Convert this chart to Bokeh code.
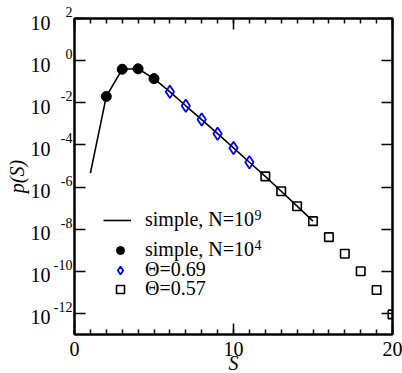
from bokeh.plotting import figure
from bokeh.models import (Range1d, LinearAxis, LogAxis, LogScale, FixedTicker, Label,
                          Legend, LegendItem, CustomJSTickFormatter)
from bokeh.embed import file_html
from bokeh.resources import INLINE

# ---------------- data ----------------
line_S = [1, 2, 3, 4, 5, 6, 7, 8, 9, 10, 11, 12, 13, 14, 15]
line_p = [4.6e-6, 2.0e-2, 0.39, 0.41, 0.14, 3.3e-2, 7.2e-3, 1.6e-3, 3.4e-4,
          7.2e-5, 1.5e-5, 3.2e-6, 6.3e-7, 1.23e-7, 2.4e-8]

dots_S = [2, 3, 4, 5]
dots_p = [2.0e-2, 0.39, 0.41, 0.14]

diam_S = [6, 7, 8, 9, 10, 11]
diam_p = [3.3e-2, 7.2e-3, 1.6e-3, 3.4e-4, 7.2e-5, 1.5e-5]

sq_S = [12, 13, 14, 15, 16, 17, 18, 19, 20]
sq_p = [3.2e-6, 6.3e-7, 1.23e-7, 2.4e-8, 4.2e-9, 6.8e-10, 1.0e-10, 1.3e-11, 9e-13]

x_major = [0, 10, 20]
x_minor = list(range(0, 21))
x_tick_labels = ["0", "10", "20"]
y_exponents = [2, 0, -2, -4, -6, -8, -10, -12]
y_tick_sups = ["2", "0", "-2", "-4", "-6", "-8", "-10", "-12"]
y_tick_base = "10"

legend_labels = ["simple, N=10", "simple, N=10", "\u0398=0.69", "\u0398=0.57"]
legend_sups = ["9", "4"]

FONT = "Liberation Serif"
NB = "\u00a0"

# ---------------- figure ----------------
p = figure(frame_width=318, frame_height=316,
           x_range=Range1d(0, 20), y_range=Range1d(1e-13, 1e2),
           y_axis_type="log", output_backend="svg", toolbar_location=None,
           min_border_left=74, min_border_right=10, min_border_top=18,
           min_border_bottom=39)
p.grid.visible = False
p.outline_line_color = "black"
p.outline_line_width = 2
p.background_fill_color = "white"
p.border_fill_color = "white"

ppd = 316 / 15.0  # pixels per decade (used only to nudge label rows)
lo, hi = 1e-13, 1e2
f_sup = 10 ** (3.0 / ppd)
f_dn = 10 ** (4 / ppd)
p.extra_y_ranges = {"sup": Range1d(lo * f_sup, hi * f_sup),
                    "base": Range1d(lo * f_dn, hi * f_dn)}
p.extra_y_scales = {"sup": LogScale(), "base": LogScale()}

y_ticks = [10.0 ** e for e in y_exponents]
xt = FixedTicker(ticks=x_major, minor_ticks=x_minor)
yt = FixedTicker(ticks=y_ticks, minor_ticks=[])
blank = CustomJSTickFormatter(code="return ''")

bottom = p.xaxis[0]
left = p.yaxis[0]
bottom.ticker = xt
left.ticker = yt
top_ax = LinearAxis(ticker=xt)
right_ax = LogAxis(ticker=yt)
p.add_layout(top_ax, "above")
p.add_layout(right_ax, "right")

for ax in [bottom, left, top_ax, right_ax]:
    ax.major_tick_in = 11
    ax.major_tick_out = 0
    ax.minor_tick_in = 5
    ax.minor_tick_out = 0
    ax.major_tick_line_width = 1.5
    ax.minor_tick_line_width = 1.5
    ax.axis_line_width = 2
    ax.major_label_standoff = 0

for ax in [left, top_ax, right_ax]:
    ax.formatter = blank

# bottom tick labels and title
bottom.major_label_overrides = {v: t for v, t in zip(x_major, x_tick_labels)}
bottom.major_label_text_font = FONT
bottom.major_label_text_font_size = "20px"
bottom.major_label_text_color = "black"
bottom.major_label_standoff = 7
bottom.axis_label = "S"
bottom.axis_label_text_font = FONT
bottom.axis_label_text_font_size = "20px"
bottom.axis_label_text_font_style = "italic"
bottom.axis_label_text_color = "black"
bottom.axis_label_standoff = -7

# left tick labels: exponent (superscript) axis and base "10" axis
sup_labels = {v: s + "\n" + NB for v, s in zip(y_ticks, y_tick_sups)}
sup_ax = LogAxis(y_range_name="sup", ticker=yt, major_label_overrides=sup_labels,
                 major_label_text_font=FONT, major_label_text_font_size="14px",
                 major_label_text_color="black", major_label_standoff=2,
                 axis_line_color=None, major_tick_line_color=None,
                 minor_tick_line_color=None, major_tick_in=0, major_tick_out=0,
                 minor_tick_in=0, minor_tick_out=0)
base_labels = {v: y_tick_base for v in y_ticks}
base_ax = LogAxis(y_range_name="base", ticker=yt, major_label_overrides=base_labels,
                  major_label_text_font=FONT, major_label_text_font_size="20px",
                  major_label_text_color="black", major_label_standoff=0,
                  axis_line_color=None, major_tick_line_color=None,
                  minor_tick_line_color=None, major_tick_in=0, major_tick_out=0,
                  minor_tick_in=0, minor_tick_out=0,
                  axis_label="p(S)", axis_label_text_font=FONT,
                  axis_label_text_font_size="20px", axis_label_text_font_style="italic",
                  axis_label_text_color="black", axis_label_standoff=0)
p.add_layout(sup_ax, "left")
p.add_layout(base_ax, "left")

# ---------------- glyphs ----------------
r_line = p.line(line_S, line_p, line_color="black", line_width=1.6)
r_dots = p.scatter(dots_S, dots_p, marker="circle", size=10, fill_color="black",
                   line_color="black")
r_diam = p.scatter(diam_S, diam_p, marker="diamond", size=12.5,
                   fill_color=None, line_color="#0000ff", line_width=1.8)
r_sq = p.scatter(sq_S, sq_p, marker="square", size=8.5, fill_color=None,
                 line_color="black", line_width=1.6)

# ---------------- legend (one row per legend for exact spacing) ----------------
rows = [(r_line, legend_labels[0], 29, 103, 14),
        (r_dots, legend_labels[1], 32, 73, 11),
        (r_diam, legend_labels[2], 32, 53, 11),
        (r_sq, legend_labels[3], 32, 34, 11)]
for rend, lab, vx, vy, stand in rows:
    p.add_layout(Legend(items=[LegendItem(label=lab, renderers=[rend])],
                        location=(vx, vy), padding=0, margin=0, spacing=0,
                        glyph_width=28, glyph_height=20, label_height=20,
                        label_standoff=stand, label_text_font=FONT,
                        label_text_font_size="20px", label_text_color="black",
                        border_line_alpha=0, background_fill_alpha=0), "center")

for sup, yy in zip(legend_sups, [120, 90]):
    p.add_layout(Label(x=180, y=yy, x_units="screen", y_units="screen", text=sup,
                       text_font=FONT, text_font_size="14px", text_color="black",
                       text_align="left", text_baseline="alphabetic"))

open("out.html", "w").write(file_html(p, INLINE))
